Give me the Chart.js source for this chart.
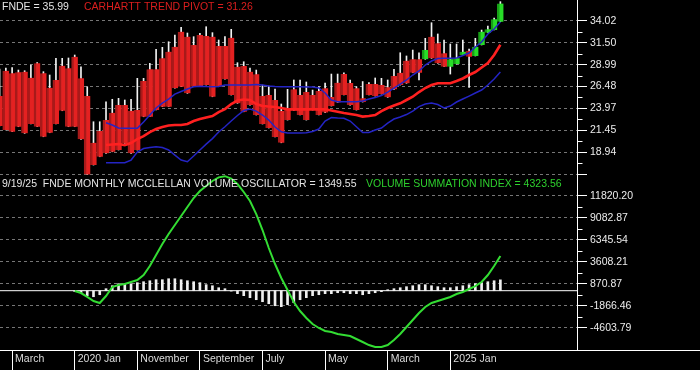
<!DOCTYPE html>
<html>
<head>
<meta charset="utf-8">
<script src="https://cdn.jsdelivr.net/npm/chart.js@4.4.1/dist/chart.umd.min.js"></script>
<style>
html,body{margin:0;padding:0;background:#000;}
canvas{display:block;}
</style>
</head>
<body>
<canvas id="c" width="700" height="370"></canvas>
<script>
// ---------- DATA (monthly, index 0 = Jan 2019 ... 80 = Sep 2025) ----------
const monthTickIdx = [2, 12, 22, 32, 42, 52, 62, 72];
const monthLabels = ['March', '2020 Jan', 'November', 'September', 'July', 'May', 'March', '2025 Jan'];

const priceTicks = [16.43, 18.94, 21.45, 23.97, 26.48, 28.99, 31.50, 34.02];
const priceTickLabels = ['', '18.94', '21.45', '23.97', '26.48', '28.99', '31.50', '34.02'];
const oscTicks = [-4603.79, -1866.46, 870.87, 3608.21, 6345.54, 9082.87, 11820.20];
const oscTickLabels = ['-4603.79', '-1866.46', '870.87', '3608.21', '6345.54', '9082.87', '11820.20'];

const open = [25.39,28.29,27.99,28.11,28.18,27.49,29.14,27.99,26.34,27.23,28.86,28.57,29.89,27.42,25.39,20.04,21.38,22.64,23.48,24.36,
  24.36,23.71,23.79,27.11,28.45,28.45,29.71,30.47,31.04,32.76,32.19,31.24,32.38,32.27,32.19,31.12,31.12,32.07,28.75,28.83,
  28.18,27.88,25.39,25.51,24.94,23.67,23.79,26.16,25.51,25.85,25.51,25.97,26.28,25.28,26.92,27.91,26.88,26.28,25.13,26.77,
  26.77,26.65,26.39,27.68,28.06,29.44,29.60,29.60,29.60,32.19,31.43,30.28,28.75,29.06,30.09,30.58,29.98,31.24,32.64,32.95,33.90];
const close = [21.96,21.50,21.30,21.88,21.12,22.19,21.88,20.73,21.19,22.19,23.71,21.88,21.88,20.43,16.40,17.49,18.44,18.83,19.01,19.21,
  19.97,18.83,19.21,23.02,23.02,23.79,24.17,24.17,26.28,26.46,25.70,26.46,26.46,26.65,25.31,26.46,27.31,25.51,24.56,23.59,
  24.36,23.22,22.19,21.73,20.70,20.04,22.64,23.75,23.22,22.64,23.79,23.22,23.50,24.25,24.65,25.51,24.36,23.79,24.71,25.51,
  25.39,25.62,25.24,26.16,26.65,26.85,28.06,28.06,30.66,29.71,29.14,28.75,29.60,29.71,30.47,29.89,31.04,32.76,33.03,34.18,35.99];
const high = [28.49,28.60,28.64,28.37,28.29,28.94,29.21,28.18,27.80,29.71,29.71,29.75,30.09,28.75,26.46,22.45,22.45,24.74,25.02,25.13,
  24.94,25.02,27.42,27.42,29.14,30.74,30.97,31.61,32.38,33.26,32.61,32.19,32.58,33.33,32.65,31.81,32.19,33.03,29.21,29.32,
  28.60,28.37,26.65,26.54,26.20,24.48,26.16,27.23,27.23,27.00,26.08,26.48,26.88,27.91,27.91,28.06,27.23,26.46,27.05,26.94,
  27.46,27.42,27.23,28.45,30.35,29.98,30.66,30.35,32.00,33.79,32.50,31.81,31.35,31.35,31.81,30.78,32.00,32.95,33.40,34.33,36.20];
const low = [21.96,21.50,21.30,21.88,21.12,22.19,21.88,20.73,21.19,22.19,23.71,21.88,21.88,20.43,16.40,17.49,18.44,18.83,19.01,19.21,
  19.97,18.83,19.21,23.02,23.02,23.79,24.17,24.17,26.28,26.46,25.70,26.46,26.46,26.65,25.31,26.46,27.31,25.51,24.56,23.59,
  24.36,23.22,22.19,21.73,20.70,20.04,22.64,23.75,23.22,22.64,23.79,23.22,23.50,24.25,24.65,25.51,24.36,23.79,24.71,25.51,
  25.39,25.62,25.24,26.16,26.65,26.85,28.06,27.23,29.60,29.71,29.14,28.75,27.91,29.06,30.09,26.39,29.98,31.24,32.64,32.95,33.90];

const N = null;
const pivot = [N,N,N,N,N,N,N,N,N,N,N,N,N,N,N,N,N,19.78,19.84,19.89,
  19.78,20.01,20.47,20.81,21.27,21.61,21.84,22.01,22.07,22.07,22.19,22.53,22.76,22.93,23.10,23.56,23.90,24.48,24.88,24.99,
  24.94,24.48,24.25,24.19,24.13,24.02,23.87,23.87,23.87,23.87,23.87,23.87,23.87,23.73,23.59,23.45,23.33,23.22,23.04,23.10,
  23.22,23.67,24.02,24.30,24.56,24.94,25.31,25.85,26.31,26.65,26.85,26.85,26.85,27.11,27.40,27.80,28.14,28.66,29.17,30.09,31.26];
const upperBand = [N,N,N,N,N,N,N,N,N,N,N,N,N,N,N,N,N,22.33,22.07,21.73,
  21.69,21.69,21.69,22.42,23.22,24.02,24.59,25.05,25.62,25.91,26.20,26.46,26.52,26.48,26.46,26.48,26.65,26.65,26.65,26.65,
  26.65,26.71,26.65,26.54,26.48,26.46,26.46,26.46,26.46,26.42,26.42,26.31,25.74,24.94,24.74,24.74,24.74,24.74,24.82,25.05,
  25.22,25.45,25.85,26.31,26.77,27.23,27.80,28.26,28.94,29.40,29.69,29.71,29.71,29.75,30.03,30.32,31.01,31.58,32.50,33.07,33.87];
const lowerBand = [N,N,N,N,N,N,N,N,N,N,N,N,N,N,N,N,N,17.75,17.75,17.75,
  17.75,18.06,18.98,19.38,19.49,19.59,19.49,19.21,18.63,18.06,17.87,18.52,19.21,19.89,20.52,21.27,21.88,22.53,23.16,23.73,
  23.90,23.67,23.22,22.64,21.84,21.30,21.15,21.15,21.15,21.19,21.33,21.61,22.53,22.93,22.87,22.84,22.53,21.88,21.21,21.21,
  21.50,21.73,22.30,22.76,22.99,23.27,23.67,24.19,24.48,24.59,24.42,24.02,24.25,24.71,25.05,25.39,25.74,26.08,26.65,27.34,28.14];

const oscillator = [N,N,N,N,N,N,N,N,N,N,N,N,-100,-250,-620,-750,-500,250,620,870,
  870,870,1000,1120,1240,1370,1370,1490,1490,1370,1240,1120,1000,750,620,370,250,-50,-370,-620,
  -870,-1120,-1370,-1620,-1870,-1990,-1740,-1490,-1120,-870,-620,-500,-370,-370,-250,-250,-370,-370,-500,-370,
  -250,-120,120,250,370,500,620,750,750,620,500,370,370,500,620,750,870,1000,1120,1240,1349.55];
const summationIndex = [N,N,N,N,N,N,N,N,N,N,N,N,-40,-290,-780,-1280,-1530,-660,460,710,
  830,1080,1330,1950,3070,4440,5810,7050,8170,9290,10410,11530,12400,13030,13650,14100,14250,13950,13270,12280,
  11160,9540,7550,5310,3320,1580,90,-1410,-2530,-3400,-4140,-4640,-5010,-5140,-5390,-5510,-5640,-6010,-6380,-6760,
  -7000,-7000,-6760,-6130,-5390,-4520,-3650,-2770,-2030,-1530,-1280,-1030,-780,-410,-160,210,580,1080,1950,3070,4323.56];

const lastPrice = '35.99', lastPivot = '31.26', lastOsc = '1349.55', lastVsi = '4323.56', asOf = '9/19/25';

// ---------- helpers ----------
const pts = arr => arr.map((v, i) => v == null ? null : {x: i, y: v}).filter(Boolean);
const FONT = '"Liberation Sans", Arial, sans-serif';
Chart.defaults.font.family = FONT;
Chart.defaults.font.size = 10.5;

const RED = '#e42121', RED_D = '#a81a1a', GRN = '#27dd27', GRN_D = '#17a017';
const isUp = c => c.raw && c.raw.y[1] >= c.raw.y[0];

const midpoints = a => a.slice(1).map((v, i) => (v + a[i]) / 2);

const decor = {
  id: 'decor',
  afterDraw(chart) {
    const {ctx, chartArea} = chart;
    const ys = chart.scales.y, yo = chart.scales.y2;
    ctx.save();
    ctx.strokeStyle = '#ffffff';
    ctx.lineWidth = 1;
    const ax = Math.round(chartArea.right) + 0.5;
    const minor = (scale, vals) => vals.forEach(v => {
      const p = Math.round(scale.getPixelForValue(v)) + 0.5;
      ctx.beginPath(); ctx.moveTo(ax, p); ctx.lineTo(ax + 5, p); ctx.stroke();
    });
    minor(ys, midpoints(priceTicks));
    minor(yo, midpoints(oscTicks));
    // bottom axis line spanning the full width
    const by = Math.round(chartArea.bottom) + 0.5;
    ctx.beginPath(); ctx.moveTo(0, by); ctx.lineTo(chart.width, by); ctx.stroke();
    // panel titles
    ctx.font = '10.5px ' + FONT;
    ctx.textBaseline = 'alphabetic';
    ctx.textAlign = 'left';
    ctx.fillStyle = '#e4e4e4';
    ctx.fillText('FNDE = ' + lastPrice, 2, 10);
    ctx.fillStyle = '#dc1e1e';
    ctx.fillText('CARHARTT TREND PIVOT = ' + lastPivot, 84, 10);
    ctx.fillStyle = '#e4e4e4';
    ctx.fillText(asOf + '  FNDE MONTHLY MCCLELLAN VOLUME OSCILLATOR = ' + lastOsc, 2, 187);
    ctx.fillStyle = '#2ed02e';
    ctx.fillText('VOLUME SUMMATION INDEX = ' + lastVsi, 366, 187);
    ctx.restore();
  }
};

new Chart(document.getElementById('c'), {
  type: 'bar',
  data: {
    datasets: [
      { // wicks
        type: 'bar', xAxisID: 'x', yAxisID: 'y', order: 7, grouped: false,
        data: open.map((o, i) => ({x: i, y: [low[i], high[i]]})),
        backgroundColor: '#f2f2f2', barThickness: 1, borderWidth: 0
      },
      { // bodies
        type: 'bar', xAxisID: 'x', yAxisID: 'y', order: 6, grouped: false,
        data: open.map((o, i) => ({x: i, y: [o, close[i]]})),
        backgroundColor: c => isUp(c) ? GRN : RED,
        borderColor: c => isUp(c) ? GRN_D : RED_D,
        borderWidth: {left: 2.5, right: 0, top: 0, bottom: 0},
        borderSkipped: false,
        barPercentage: 1, categoryPercentage: 1
      },
      { type: 'line', xAxisID: 'x', yAxisID: 'y', order: 4, data: pts(upperBand),
        borderColor: '#2424c4', borderWidth: 1.5, pointRadius: 0, tension: 0 },
      { type: 'line', xAxisID: 'x', yAxisID: 'y', order: 4, data: pts(lowerBand),
        borderColor: '#2424c4', borderWidth: 1.5, pointRadius: 0, tension: 0 },
      { type: 'line', xAxisID: 'x', yAxisID: 'y', order: 3, data: pts(pivot),
        borderColor: '#ff2020', borderWidth: 2.6, pointRadius: 0, tension: 0 },
      { // zero line of oscillator panel
        type: 'line', xAxisID: 'x', yAxisID: 'y2', order: 5, data: [{x: -2, y: 0}, {x: 95, y: 0}],
        borderColor: '#ffffff', borderWidth: 1, pointRadius: 0 },
      { type: 'bar', xAxisID: 'x', yAxisID: 'y2', order: 2, grouped: false, data: pts(oscillator),
        backgroundColor: '#f0f0f0', barThickness: 2, borderWidth: 0 },
      { type: 'line', xAxisID: 'x', yAxisID: 'y2', order: 1, data: pts(summationIndex),
        borderColor: '#33dd33', borderWidth: 2, pointRadius: 0, tension: 0 }
    ]
  },
  options: {
    responsive: false,
    devicePixelRatio: 1,
    animation: false,
    events: [],
    layout: {padding: 0},
    plugins: {legend: {display: false}, tooltip: {enabled: false}, title: {display: false}},
    scales: {
      x: {
        type: 'linear', position: 'bottom', min: 0.064, max: 92.24, bounds: 'data', offset: false,
        afterBuildTicks: s => { s.ticks = monthTickIdx.map(v => ({value: v})); },
        afterFit: s => { s.height = 20; s.paddingLeft = 0; s.paddingRight = 0; },
        ticks: {
          color: '#dcdcdc', font: {size: 10.5}, align: 'start', labelOffset: 3, padding: -17,
          maxRotation: 0, minRotation: 0, autoSkip: false,
          callback: (v, i) => monthLabels[i]
        },
        grid: {offset: false, drawOnChartArea: false, drawTicks: true, tickLength: 20, tickColor: '#ffffff', color: '#ffffff'},
        border: {display: false}
      },
      y: {
        type: 'linear', position: 'right', stack: 'panes', stackWeight: 1,
        min: 16.35, max: 36.39, bounds: 'data',
        afterBuildTicks: s => { s.ticks = priceTicks.map(v => ({value: v})); },
        afterFit: s => { s.width = 123; s.paddingTop = 0; s.paddingBottom = 0; },
        ticks: {color: '#ececec', font: {size: 10.5}, padding: 3, autoSkip: false, callback: (v, i) => priceTickLabels[i]},
        grid: {color: '#767676', lineWidth: 1, tickColor: '#ffffff', tickLength: 10, drawTicks: true},
        border: {display: true, color: '#ffffff', width: 1, dash: [3, 3]}
      },
      y2: {
        type: 'linear', position: 'right', stack: 'panes', stackWeight: 1,
        min: -7378, max: 14396, bounds: 'data',
        afterBuildTicks: s => { s.ticks = oscTicks.map(v => ({value: v})); },
        afterFit: s => { s.width = 123; s.paddingTop = 0; s.paddingBottom = 0; },
        ticks: {color: '#ececec', font: {size: 10.5}, padding: 3, autoSkip: false, callback: (v, i) => oscTickLabels[i]},
        grid: {color: '#767676', lineWidth: 1, tickColor: '#ffffff', tickLength: 10, drawTicks: true},
        border: {display: true, color: '#ffffff', width: 1, dash: [3, 3]}
      }
    }
  },
  plugins: [decor]
});
</script>
</body>
</html>
